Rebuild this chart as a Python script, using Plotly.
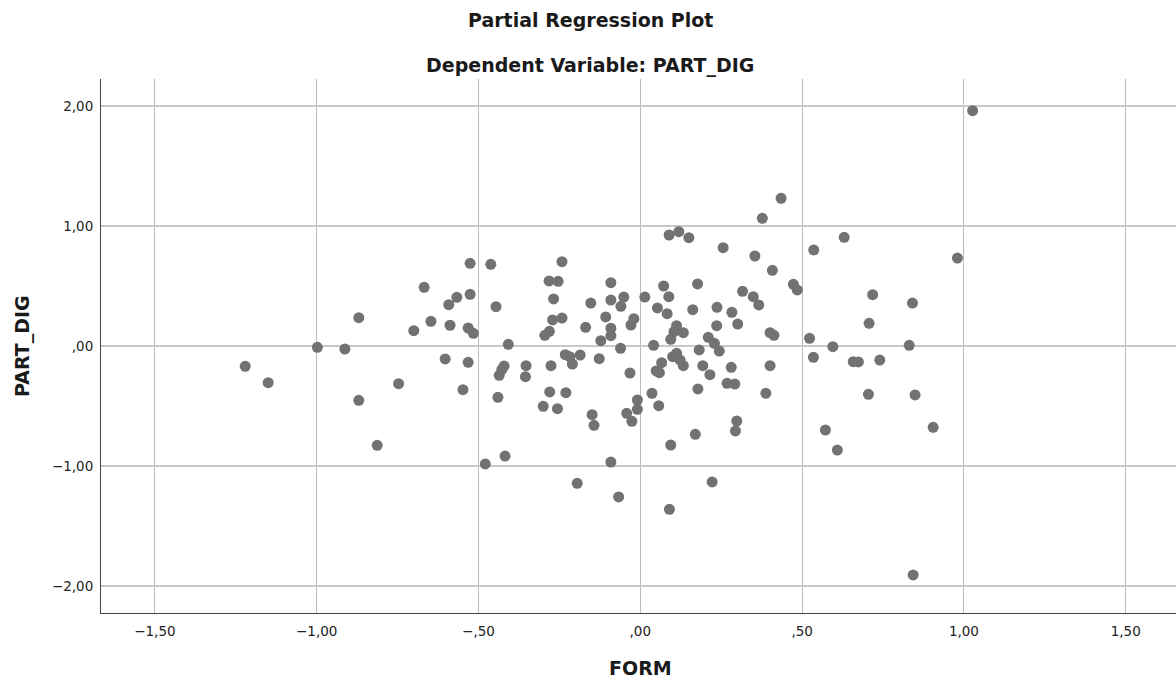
import plotly.graph_objects as go

# FORM (x) and PART_DIG (y) partial residuals
form = [
    -0.526, -0.668, -0.567, -0.526, -0.592, -0.870, -0.647, -0.588, -0.700, -0.532,
    -0.516, -0.998, -0.913, -1.221, -1.150, -0.603, -0.532, -0.747, -0.548, -0.870,
    -0.813, -0.462, -0.242, -0.446, -0.282, -0.254, -0.268, -0.408, -0.271, -0.242,
    -0.295, -0.281, -0.421, -0.428, -0.436, -0.440, -0.353, -0.355, -0.276, -0.280,
    -0.230, -0.300, -0.256, -0.232, -0.218, -0.210, -0.186, -0.127, -0.169, -0.153,
    -0.107, -0.091, -0.091, -0.051, -0.060, -0.091, -0.091, -0.122, -0.061, -0.020,
    -0.029, 0.014, 0.053, 0.041, -0.032, 0.036, 0.057, -0.009, -0.009, -0.042,
    -0.026, -0.149, -0.143, -0.479, -0.418, -0.091, -0.195, -0.067, 0.435, 0.377,
    0.089, 0.119, 0.150, 0.256, 0.354, 0.408, 0.536, 0.630, 0.072, 0.088,
    0.083, 0.177, 0.162, 0.237, 0.236, 0.283, 0.301, 0.316, 0.349, 0.366,
    0.473, 0.485, 0.401, 0.413, 0.523, 0.595, 0.535, 0.112, 0.104, 0.094,
    0.133, 0.112, 0.100, 0.123, 0.133, 0.066, 0.049, 0.059, 0.182, 0.210,
    0.229, 0.244, 0.193, 0.215, 0.281, 0.268, 0.292, 0.401, 0.388, 0.178,
    0.298, 0.294, 0.170, 0.094, 0.572, 0.609, 0.222, 0.090, 0.980, 0.718,
    0.841, 0.707, 0.831, 0.658, 0.674, 0.740, 0.705, 0.849, 0.905, 1.027,
    0.843,
]
part_dig = [
    0.689, 0.489, 0.406, 0.431, 0.344, 0.236, 0.206, 0.173, 0.128, 0.150,
    0.106, -0.011, -0.025, -0.169, -0.306, -0.108, -0.136, -0.314, -0.364, -0.453,
    -0.828, 0.681, 0.703, 0.328, 0.542, 0.539, 0.392, 0.014, 0.217, 0.233,
    0.089, 0.122, -0.167, -0.197, -0.244, -0.428, -0.164, -0.256, -0.164, -0.383,
    -0.389, -0.503, -0.522, -0.072, -0.089, -0.150, -0.075, -0.106, 0.156, 0.358,
    0.242, 0.528, 0.383, 0.408, 0.331, 0.148, 0.086, 0.044, -0.019, 0.228,
    0.175, 0.408, 0.317, 0.006, -0.225, -0.394, -0.497, -0.450, -0.528, -0.561,
    -0.628, -0.572, -0.661, -0.983, -0.917, -0.967, -1.144, -1.258, 1.231, 1.064,
    0.925, 0.953, 0.903, 0.819, 0.750, 0.631, 0.800, 0.906, 0.500, 0.411,
    0.269, 0.517, 0.303, 0.322, 0.169, 0.281, 0.183, 0.456, 0.411, 0.342,
    0.514, 0.467, 0.111, 0.089, 0.064, -0.006, -0.094, 0.169, 0.119, 0.056,
    0.111, -0.061, -0.089, -0.117, -0.164, -0.139, -0.208, -0.222, -0.033, 0.072,
    0.022, -0.042, -0.164, -0.239, -0.178, -0.311, -0.317, -0.164, -0.394, -0.358,
    -0.625, -0.708, -0.736, -0.825, -0.700, -0.867, -1.133, -1.361, 0.733, 0.428,
    0.358, 0.189, 0.006, -0.131, -0.133, -0.117, -0.403, -0.408, -0.678, 1.961,
    -1.908,
]

x_tick_vals = [-1.5, -1.0, -0.5, 0.0, 0.5, 1.0, 1.5]
x_tick_text = ["\u22121,50", "\u22121,00", "\u2212,50", ",00", ",50", "1,00", "1,50"]
y_tick_vals = [-2.0, -1.0, 0.0, 1.0, 2.0]
y_tick_text = ["\u22122,00", "\u22121,00", ",00", "1,00", "2,00"]

title_main = "Partial Regression Plot"
title_sub = "Dependent Variable: PART_DIG"
x_title = "FORM"
y_title = "PART_DIG"

fig = go.Figure()
fig.add_trace(go.Scatter(
    x=form, y=part_dig, mode="markers",
    marker=dict(size=11, color="#727272", line=dict(width=0)),
    hoverinfo="x+y", showlegend=False,
))

tick_font = dict(family="DejaVu Sans", size=13.5, color="#222222")
bold = dict(family="DejaVu Sans", size=19, color="#1a1a1a", weight="bold")
title_font = dict(family="DejaVu Sans", size=19, color="#1a1a1a", weight="bold")

fig.update_layout(
    width=1176, height=686,
    margin=dict(l=101, r=0, t=79, b=73),
    paper_bgcolor="white", plot_bgcolor="white",
    xaxis=dict(
        range=[-1.6666, 1.6554], tickvals=x_tick_vals, ticktext=x_tick_text,
        showgrid=True, gridcolor="#bcbcbc", gridwidth=1,
        zeroline=False, showline=True, linecolor="#444444", linewidth=1,
        ticks="outside", ticklen=6, tickcolor="rgba(0,0,0,0)",
        tickfont=tick_font,
    ),
    yaxis=dict(
        range=[-2.225, 2.225], tickvals=y_tick_vals, ticktext=y_tick_text,
        showgrid=True, gridcolor="#c8c8c8", gridwidth=1.6,
        zeroline=False, showline=True, linecolor="#444444", linewidth=1,
        ticks="outside", ticklen=4, tickcolor="rgba(0,0,0,0)",
        tickfont=tick_font,
    ),
    annotations=[
        dict(text=title_main, xref="paper", yref="paper", x=0.4549, y=1.110,
             xanchor="center", yanchor="middle", showarrow=False, font=title_font),
        dict(text=title_sub, xref="paper", yref="paper", x=0.4549, y=1.026,
             xanchor="center", yanchor="middle", showarrow=False, font=title_font),
        dict(text=x_title, xref="x", yref="paper", x=0.0, y=-0.103,
             xanchor="center", yanchor="middle", showarrow=False, font=bold),
        dict(text=y_title, xref="paper", yref="y", x=-0.0735, y=0.0,
             xanchor="center", yanchor="middle", showarrow=False, textangle=-90,
             font=bold),
    ],
)

fig.write_html(
    "out.html",
    config={"displayModeBar": False},
    post_script="document.body.style.margin='0px';document.body.style.overflow='hidden';",
)
